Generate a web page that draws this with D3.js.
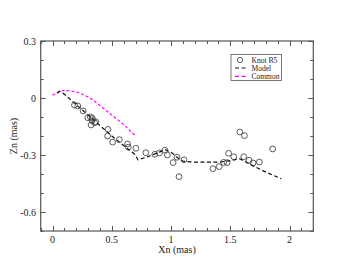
<!DOCTYPE html>
<html><head><meta charset="utf-8">
<script src="https://cdn.jsdelivr.net/npm/d3@7"></script>
<style>body{margin:0;background:#fff}svg{display:block}</style>
</head><body>
<script>
// Observations: Knot B5
const knotX = [0.185,0.213,0.258,0.297,0.319,0.334,0.355,0.325,0.364,0.336,0.468,0.465,0.507,0.563,0.633,0.639,0.703,0.787,0.863,0.902,0.947,0.969,1.017,1.05,1.067,1.109,1.353,1.406,1.443,1.473,1.485,1.529,1.58,1.619,1.613,1.658,1.692,1.745,1.857];
const knotZ = [-0.037,-0.042,-0.068,-0.104,-0.1,-0.119,-0.13,-0.142,-0.125,-0.107,-0.165,-0.2,-0.232,-0.219,-0.242,-0.259,-0.265,-0.288,-0.296,-0.289,-0.275,-0.3,-0.34,-0.312,-0.414,-0.325,-0.372,-0.361,-0.339,-0.34,-0.291,-0.309,-0.179,-0.198,-0.309,-0.328,-0.342,-0.337,-0.268];
// Model
const modelX = [0.04,0.06,0.1,0.2,0.3,0.4,0.5,0.6,0.66,0.7,0.72,0.8,0.9,0.95,1.0,1.05,1.1,1.2,1.4,1.5,1.58,1.7,1.8,1.93];
const modelZ = [0.025,0.035,0.02,-0.035,-0.09,-0.145,-0.2,-0.25,-0.28,-0.3,-0.325,-0.31,-0.285,-0.272,-0.285,-0.312,-0.333,-0.338,-0.338,-0.33,-0.32,-0.36,-0.39,-0.425];
// Common
const commonX = [0.0,0.05,0.1,0.15,0.2,0.25,0.3,0.35,0.4,0.45,0.5,0.55,0.6,0.65,0.7];
const commonZ = [0.015,0.033,0.04,0.038,0.032,0.02,0.005,-0.015,-0.04,-0.065,-0.09,-0.115,-0.14,-0.17,-0.2];
const xTicks = [0,0.5,1,1.5,2];
const yTicks = [0.3,0,-0.3,-0.6];
const legendLabels = ["Knot B5","Model","Common"];

const W=353,H=273;
const L=40.7,R=313.3,T=41,B=231;
const svg=d3.select("body").append("svg").attr("width",W).attr("height",H);
const x=d3.scaleLinear().domain([-0.1,2.2]).range([L,R]);
const y=d3.scaleLinear().domain([-0.7,0.3]).range([B,T]);
const font="'Liberation Serif','Times New Roman',serif";
const axisCol="#555";

// ticks (inward, all sides)
const xMinor=d3.range(-0.1,2.2001,0.1).map(v=>+v.toFixed(2));
const yMinor=d3.range(-0.7,0.3001,0.1).map(v=>+v.toFixed(2));
const isMajorX=v=>xTicks.some(t=>Math.abs(t-v)<1e-6);
const isMajorY=v=>yTicks.some(t=>Math.abs(t-v)<1e-6);
const tg=svg.append("g").attr("stroke",axisCol).attr("stroke-width",1);
xMinor.forEach(v=>{
  const len=isMajorX(v)?5:3, px=Math.round(x(v))+0.5;
  tg.append("line").attr("x1",px).attr("x2",px).attr("y1",B).attr("y2",B-len);
  tg.append("line").attr("x1",px).attr("x2",px).attr("y1",T).attr("y2",T+len);
});
yMinor.forEach(v=>{
  const len=isMajorY(v)?5:3, py=Math.round(y(v))+0.5;
  tg.append("line").attr("y1",py).attr("y2",py).attr("x1",L).attr("x2",L+len);
  tg.append("line").attr("y1",py).attr("y2",py).attr("x1",R).attr("x2",R-len);
});
svg.append("rect").attr("x",L).attr("y",T).attr("width",R-L).attr("height",B-T)
  .attr("fill","none").attr("stroke",axisCol).attr("stroke-width",1.2);

// tick labels
svg.append("g").selectAll("text").data(xTicks).join("text")
  .attr("x",d=>x(d)).attr("y",243).attr("text-anchor","middle")
  .attr("font-family",font).attr("font-size",10).attr("fill","#222").text(d=>d);
svg.append("g").selectAll("text").data(yTicks).join("text")
  .attr("x",36).attr("y",d=>y(d)+3.5).attr("text-anchor","end")
  .attr("font-family",font).attr("font-size",10).attr("fill","#222").text(d=>d);
svg.append("text").attr("x",(L+R)/2).attr("y",252.5).attr("text-anchor","middle")
  .attr("font-family",font).attr("font-size",10).attr("fill","#222").text("Xn (mas)");
svg.append("text").attr("transform",`translate(17,${(T+B)/2}) rotate(-90)`).attr("text-anchor","middle")
  .attr("font-family",font).attr("font-size",10).attr("fill","#222").text("Zn (mas)");

const line=d3.line().x(d=>x(d[0])).y(d=>y(d[1]));
svg.append("path").datum(commonX.map((v,i)=>[v,commonZ[i]])).attr("d",line)
  .attr("fill","none").attr("stroke","#ff00ff").attr("stroke-width",1.2).attr("stroke-dasharray","3,2");
svg.append("path").datum(modelX.map((v,i)=>[v,modelZ[i]])).attr("d",line)
  .attr("fill","none").attr("stroke","#111").attr("stroke-width",1.2).attr("stroke-dasharray","4,2.5");
svg.append("g").selectAll("circle").data(knotX.map((v,i)=>[v,knotZ[i]])).join("circle")
  .attr("cx",d=>x(d[0])).attr("cy",d=>y(d[1])).attr("r",2.9)
  .attr("fill","none").attr("stroke","#333").attr("stroke-width",0.8);

// legend
const lg=svg.append("g");
lg.append("rect").attr("x",231).attr("y",54.5).attr("width",50.5).attr("height",26)
  .attr("fill","#fff").attr("stroke","#555").attr("stroke-width",0.8);
const rows=[60,68,76.3];
lg.append("circle").attr("cx",240).attr("cy",rows[0]).attr("r",2.6).attr("fill","none").attr("stroke","#333").attr("stroke-width",0.8);
lg.append("line").attr("x1",235).attr("x2",246).attr("y1",rows[1]).attr("y2",rows[1]).attr("stroke","#111").attr("stroke-width",1.2).attr("stroke-dasharray","4,2.5");
lg.append("line").attr("x1",235).attr("x2",246).attr("y1",rows[2]).attr("y2",rows[2]).attr("stroke","#ff00ff").attr("stroke-width",1.2).attr("stroke-dasharray","4,2.5");
lg.selectAll("text").data(legendLabels).join("text")
  .attr("x",251.5).attr("y",(d,i)=>rows[i]+2.5).attr("font-family",font).attr("font-size",7.5).attr("fill","#222").text(d=>d);
</script>
</body></html>
